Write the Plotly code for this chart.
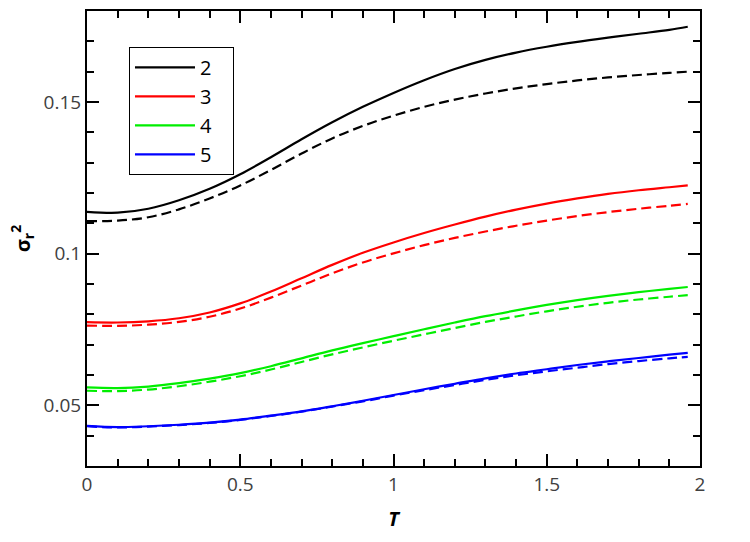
import plotly.graph_objects as go

T = [0, 0.1, 0.2, 0.3, 0.4, 0.5, 0.6, 0.7, 0.8, 0.9, 1.0, 1.1, 1.2, 1.3, 1.4, 1.5, 1.6, 1.7, 1.8, 1.9, 1.96]

n2_solid = [0.1138, 0.1135, 0.1148, 0.1176, 0.1214, 0.1262, 0.1318, 0.1377, 0.1433, 0.1484, 0.1530,
            0.1572, 0.1609, 0.1639, 0.1663, 0.1682, 0.1698, 0.1712, 0.1725, 0.1738, 0.1748]
n2_dash = [0.1107, 0.1109, 0.1120, 0.1146, 0.1182, 0.1225, 0.1276, 0.1330, 0.1380, 0.1421, 0.1455,
           0.1484, 0.1508, 0.1528, 0.1545, 0.1559, 0.1571, 0.1581, 0.1589, 0.1596, 0.1600]
n3_solid = [0.0774, 0.0773, 0.0777, 0.0787, 0.0806, 0.0836, 0.0875, 0.0919, 0.0963, 0.1003, 0.1037,
            0.1068, 0.1096, 0.1122, 0.1145, 0.1165, 0.1182, 0.1197, 0.1209, 0.1219, 0.1225]
n3_dash = [0.0763, 0.0762, 0.0766, 0.0775, 0.0792, 0.0819, 0.0855, 0.0895, 0.0935, 0.0971, 0.1001,
           0.1028, 0.1052, 0.1073, 0.1092, 0.1109, 0.1124, 0.1137, 0.1148, 0.1158, 0.1164]
n4_solid = [0.0559, 0.0557, 0.0562, 0.0573, 0.0588, 0.0606, 0.0629, 0.0655, 0.0681, 0.0705, 0.0728,
            0.0751, 0.0773, 0.0794, 0.0813, 0.0831, 0.0847, 0.0861, 0.0873, 0.0884, 0.0890]
n4_dash = [0.0548, 0.0547, 0.0552, 0.0563, 0.0578, 0.0596, 0.0618, 0.0643, 0.0668, 0.0691, 0.0713,
           0.0734, 0.0755, 0.0775, 0.0793, 0.0810, 0.0825, 0.0838, 0.0849, 0.0858, 0.0863]
n5_solid = [0.0432, 0.0428, 0.0431, 0.0436, 0.0443, 0.0453, 0.0466, 0.0480, 0.0497, 0.0515, 0.0534,
            0.0553, 0.0571, 0.0589, 0.0605, 0.0619, 0.0633, 0.0645, 0.0656, 0.0667, 0.0673]
n5_dash = [0.0431, 0.0427, 0.0430, 0.0435, 0.0442, 0.0452, 0.0465, 0.0479, 0.0496, 0.0513, 0.0532,
           0.0550, 0.0567, 0.0584, 0.0599, 0.0612, 0.0624, 0.0636, 0.0646, 0.0655, 0.0660]

names = ["2", "3", "4", "5"]
colors = ["#000000", "#ff0000", "#00ee00", "#0000ff"]
solids = [n2_solid, n3_solid, n4_solid, n5_solid]
dashes = [n2_dash, n3_dash, n4_dash, n5_dash]

fig = go.Figure()
for name, c, s in zip(names, colors, solids):
    fig.add_trace(go.Scatter(x=T, y=s, mode="lines", name=name + "\u00a0\u00a0\u00a0",
                             line=dict(color=c, width=2.2, shape="spline")))
for name, c, d in zip(names, colors, dashes):
    fig.add_trace(go.Scatter(x=T, y=d, mode="lines", name=name, showlegend=False,
                             line=dict(color=c, width=2.2, dash="10px,5px", shape="spline")))

tickfont = dict(family="Open Sans", size=19, color="#404040")
fig.update_layout(
    width=750, height=542,
    margin=dict(l=87, r=50, t=9, b=76),
    paper_bgcolor="white", plot_bgcolor="white",
    showlegend=True,
    legend=dict(x=0.0685, y=0.921, xanchor="left", yanchor="top",
                bordercolor="black", borderwidth=1, bgcolor="white",
                font=dict(family="Open Sans", size=20, color="black"),
                tracegroupgap=0, itemwidth=60),
    xaxis=dict(range=[0, 2], tickvals=[0, 0.5, 1, 1.5, 2], ticktext=["0", "0.5", "1", "1.5", "2"],
               ticks="inside", ticklen=12, tickwidth=2, tickcolor="black",
               showline=True, linewidth=2, linecolor="black", mirror="allticks",
               showgrid=False, zeroline=False, tickfont=tickfont,
               minor=dict(dtick=0.1, tick0=0, ticks="inside", ticklen=7, tickwidth=2,
                          tickcolor="black", showgrid=False),
               title=dict(text="<b><i>T</i></b>", font=dict(family="Open Sans", size=20, color="black"),
                          standoff=16)),
    yaxis=dict(range=[0.03, 0.18], tickvals=[0.05, 0.1, 0.15], ticktext=["0.05", "0.1", "0.15"],
               ticks="inside", ticklen=12, tickwidth=2, tickcolor="black",
               showline=True, linewidth=2, linecolor="black", mirror="allticks",
               showgrid=False, zeroline=False, tickfont=tickfont,
               minor=dict(dtick=0.01, tick0=0, ticks="inside", ticklen=7, tickwidth=2,
                          tickcolor="black", showgrid=False),
               title=dict(text="<b>σ<sub>r</sub><sup>2</sup></b>",
                          font=dict(family="Open Sans", size=20, color="black"), standoff=8)),
)

fig.write_html("out.html")
